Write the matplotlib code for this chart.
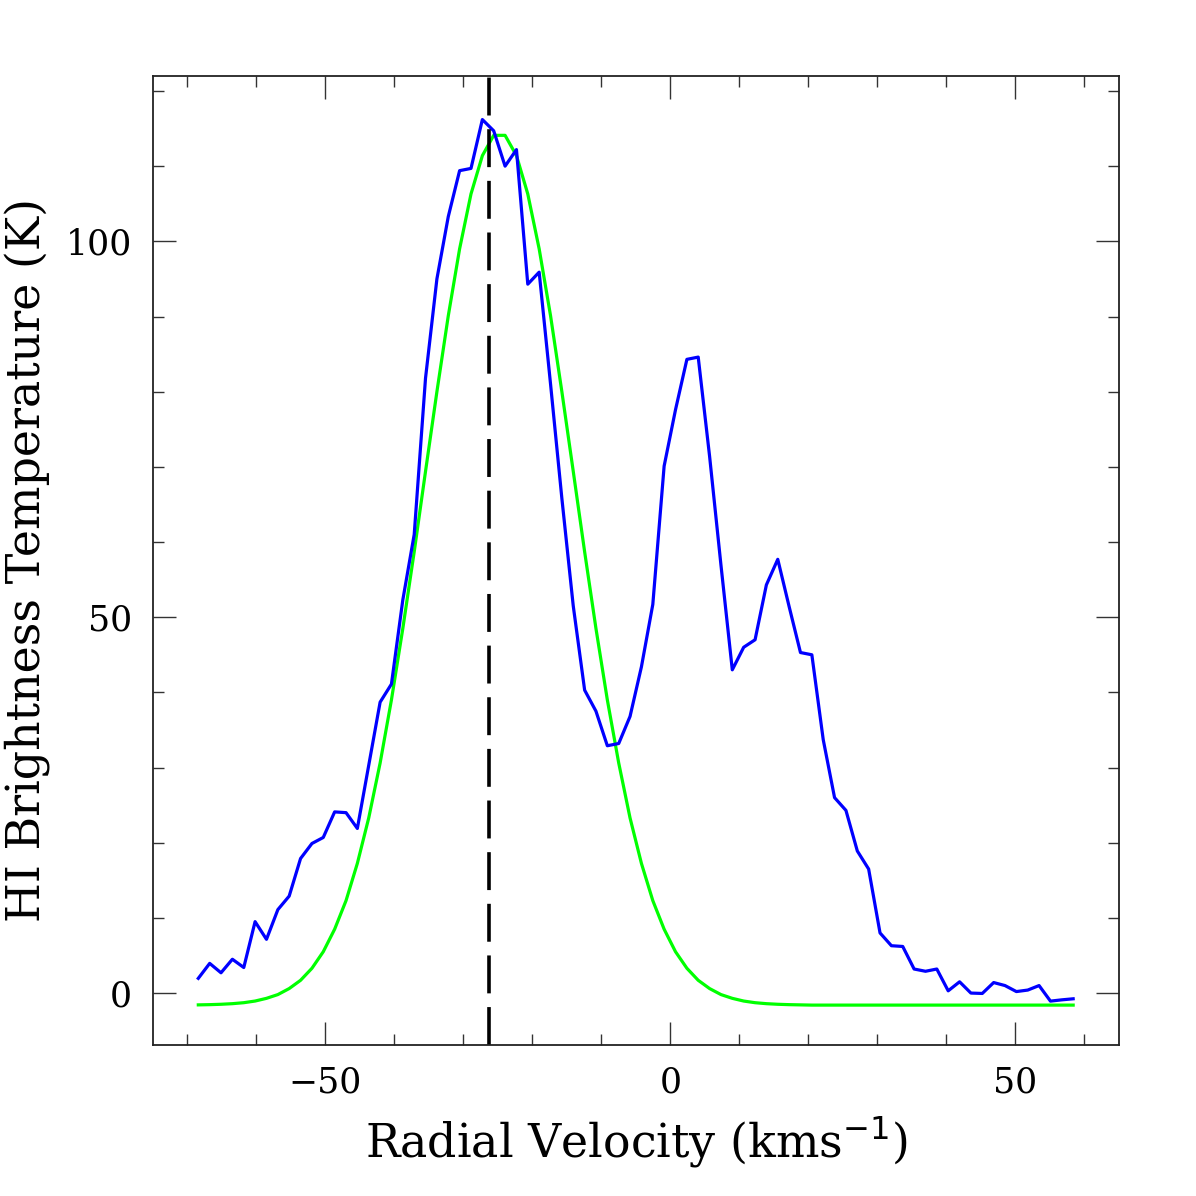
import matplotlib
matplotlib.use("Agg")
import matplotlib.pyplot as plt
from matplotlib.ticker import MultipleLocator

# channel velocities (km/s)
velocity = [-68.43, -66.78, -65.14, -63.49, -61.84, -60.20, -58.55, -56.90, -55.26, -53.61,
            -51.96, -50.32, -48.67, -47.02, -45.38, -43.73, -42.08, -40.44, -38.79, -37.14,
            -35.50, -33.85, -32.20, -30.56, -28.91, -27.26, -25.62, -23.97, -22.32, -20.68,
            -19.03, -17.38, -15.74, -14.09, -12.44, -10.80, -9.15, -7.50, -5.86, -4.21,
            -2.56, -0.92, 0.73, 2.38, 4.02, 5.67, 7.32, 8.96, 10.61, 12.26,
            13.90, 15.55, 17.20, 18.84, 20.49, 22.14, 23.78, 25.43, 27.08, 28.72,
            30.37, 32.02, 33.66, 35.31, 36.96, 38.60, 40.25, 41.90, 43.54, 45.19,
            46.84, 48.48, 50.13, 51.78, 53.42, 55.07, 56.72, 58.36]

# observed HI brightness temperature (K)
t_obs = [1.96, 3.95, 2.7, 4.5, 3.4, 9.5, 7.15, 11.1, 12.9, 17.9,
         19.9, 20.7, 24.1, 24.0, 21.9, 30.3, 38.7, 41.1, 52.3, 61.0,
         81.8, 95.0, 103.3, 109.4, 109.7, 116.2, 114.7, 110.0, 112.2, 94.3,
         95.9, 81.0, 65.8, 51.5, 40.3, 37.5, 32.9, 33.2, 36.8, 43.4,
         51.7, 70.1, 77.6, 84.3, 84.6, 71.4, 56.9, 43.0, 46.0, 47.0,
         54.3, 57.7, 51.4, 45.3, 45.0, 33.7, 26.0, 24.3, 18.9, 16.5,
         8.0, 6.3, 6.2, 3.2, 2.9, 3.2, 0.3, 1.5, 0.0, -0.05,
         1.4, 1.0, 0.2, 0.4, 1.0, -1.07, -0.9, -0.76]

# gaussian fit, sampled on the same channels
t_fit = [-1.57, -1.54, -1.49, -1.41, -1.28, -1.06, -0.7, -0.2, 0.6, 1.7,
         3.3, 5.5, 8.5, 12.3, 17.25, 23.3, 30.6, 39.0, 48.5, 58.7,
         69.4, 80.0, 90.1, 99.0, 106.3, 111.4, 114.1, 114.1, 111.4, 106.3,
         99.0, 90.1, 80.0, 69.4, 58.7, 48.5, 39.0, 30.6, 23.3, 17.25,
         12.3, 8.5, 5.5, 3.3, 1.7, 0.6, -0.2, -0.7, -1.06, -1.28,
         -1.41, -1.49, -1.54, -1.57, -1.6, -1.6, -1.6, -1.6, -1.6, -1.6,
         -1.6, -1.6, -1.6, -1.6, -1.6, -1.6, -1.6, -1.6, -1.6, -1.6,
         -1.6, -1.6, -1.6, -1.6, -1.6, -1.6, -1.6, -1.6]

v_centre = -26.3

plt.rcParams['font.family'] = ['DejaVu Serif']

fig = plt.figure(figsize=(11.96, 11.96), dpi=100)
ax = fig.add_axes([0.1279, 0.1263, 0.8077, 0.8102])

ax.plot(velocity, t_fit, color='#00ff00', lw=2.3)
ax.plot(velocity, t_obs, color='#0000ff', lw=2.3)
ax.axvline(v_centre, color='black', lw=2.6, dashes=(10.5, 3.8))

ax.set_xlim(-75, 65)
ax.set_ylim(-6.9, 122)

ax.xaxis.set_major_locator(MultipleLocator(50))
ax.xaxis.set_minor_locator(MultipleLocator(10))
ax.yaxis.set_major_locator(MultipleLocator(50))
ax.yaxis.set_minor_locator(MultipleLocator(10))

ax.tick_params(which='both', direction='in', top=True, right=True,
               color='#333333', width=1.0, labelsize=25, pad=15)
ax.tick_params(which='major', length=16.5)
ax.tick_params(which='minor', length=8)
for s in ax.spines.values():
    s.set_linewidth(1.3)
    s.set_color('#222222')

ax.set_xlabel(r'Radial Velocity (kms$^{-1}$)', fontsize=33)
ax.set_ylabel('HI Brightness Temperature (K)', fontsize=33)
ax.xaxis.set_label_coords(0.5, -0.072)
ax.yaxis.set_label_coords(-0.106, 0.5)

fig.savefig('out.png', dpi=100)
